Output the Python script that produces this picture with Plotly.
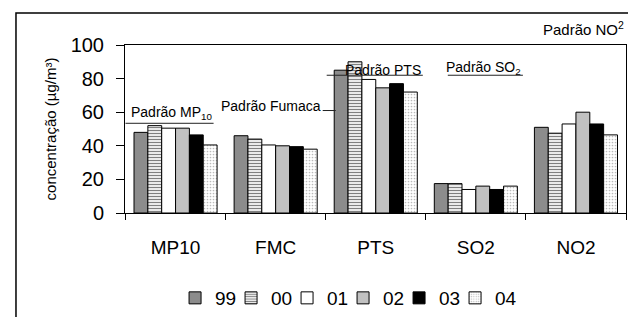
import plotly.graph_objects as go

categories = ["MP10", "FMC", "PTS", "SO2", "NO2"]
years = ["99", "00", "01", "02", "03", "04"]
values = {
    "99": [48, 46, 85, 17.5, 51],
    "00": [52, 44, 90, 17.5, 47.5],
    "01": [50.5, 40.5, 79.5, 14, 53],
    "02": [50.5, 40, 74.5, 16, 60],
    "03": [46.5, 39.5, 77, 14, 53],
    "04": [40.5, 38, 72, 16, 46.5],
}
# standard reference lines
std_labels = ["Padrão MP<sub>10</sub>", "Padrão Fumaca", "Padrão PTS", "Padrão SO<sub>2</sub>"]
std_x0 = [-0.5, 1.6, 1.51, 2.72]
std_x1 = [0.38, 1.47, 2.47, 3.47]
std_vals = [53.4, 61, 82, 82]
std_shift = [-1, -5, -5, -4]
no2_label = "Padrão NO<sup>2</sup>"
y_ticks = [0, 20, 40, 60, 80, 100]

styles = {
    "99": dict(color="#8c8c8c"),
    "00": dict(color="white", pattern=dict(shape="-", size=3, solidity=0.45, fgcolor="black", bgcolor="white")),
    "01": dict(color="white"),
    "02": dict(color="white", pattern=dict(shape=".", size=2, solidity=0.5, fgcolor="#6a6a6a", bgcolor="#d8d8d8")),
    "03": dict(color="black"),
    "04": dict(color="white", pattern=dict(shape=".", size=3, solidity=0.25, fgcolor="#777777", bgcolor="white")),
}

fig = go.Figure()
for y in years:
    st = styles[y]
    marker = dict(color=st["color"], line=dict(color="black", width=1))
    if "pattern" in st:
        marker["pattern"] = st["pattern"]
    fig.add_trace(go.Bar(x=categories, y=values[y], name=y, marker=marker))

# invisible spacer entry so the last legend label is not clipped
fig.add_trace(go.Scatter(x=[None], y=[None], mode="markers", name=" ",
                         marker=dict(color="rgba(0,0,0,0)", size=1,
                                     line=dict(width=0, color="rgba(0,0,0,0)")),
                         hoverinfo="skip"))

FONT = "Liberation Sans"

for lab, x0, x1, v, sh in zip(std_labels, std_x0, std_x1, std_vals, std_shift):
    fig.add_shape(type="line", xref="x", yref="y", x0=x0, x1=x1, y0=v, y1=v,
                  line=dict(color="#222222", width=1))
    fig.add_annotation(x=x1, y=v, xref="x", yref="y", text=lab, showarrow=False,
                       xanchor="right", yanchor="bottom", yshift=sh,
                       font=dict(family=FONT, size=14, color="black"))

fig.add_annotation(x=1.0, y=1.10, xref="paper", yref="paper", text=no2_label,
                   showarrow=False, xanchor="right", yanchor="middle",
                   font=dict(family=FONT, size=15, color="black"))

# outer frame
fig.add_shape(type="rect", xref="paper", yref="paper", x0=-0.2176, x1=1.05, y0=-0.7, y1=1.191,
              line=dict(color="black", width=1.5), fillcolor="rgba(0,0,0,0)", layer="below")

# page has an 8px body margin; figure sized to fit the 636x317 window
fig.update_layout(
    width=628, height=309,
    margin=dict(l=117, r=10, t=37, b=104),
    paper_bgcolor="white", plot_bgcolor="white",
    barmode="group", bargap=0.17, bargroupgap=0,
    font=dict(family=FONT, color="black"),
    showlegend=True,
    legend=dict(orientation="h", xref="container", yref="container",
                x=0.266, xanchor="left", y=0.0615, yanchor="middle",
                font=dict(family=FONT, size=19), itemwidth=30, traceorder="normal",
                entrywidth=11, entrywidthmode="pixels"),
    xaxis=dict(showline=True, linecolor="black", linewidth=1, mirror=True, automargin=False,
               ticks="outside", ticklen=6, tickcolor="black", tickson="boundaries",
               tickfont=dict(family=FONT, size=19), ticklabelstandoff=17,
               showgrid=False),
    yaxis=dict(range=[0, 100], tickvals=y_ticks, showline=True, linecolor="black", linewidth=1,
               mirror=True, ticks="outside", ticklen=8, tickcolor="black", automargin=False,
               ticklabelstandoff=8,
               tickfont=dict(family=FONT, size=20), showgrid=False, zeroline=False,
               title=dict(text="concentração (µg/m³)", font=dict(family=FONT, size=15), standoff=10)),
)

fig.write_html("out.html")
